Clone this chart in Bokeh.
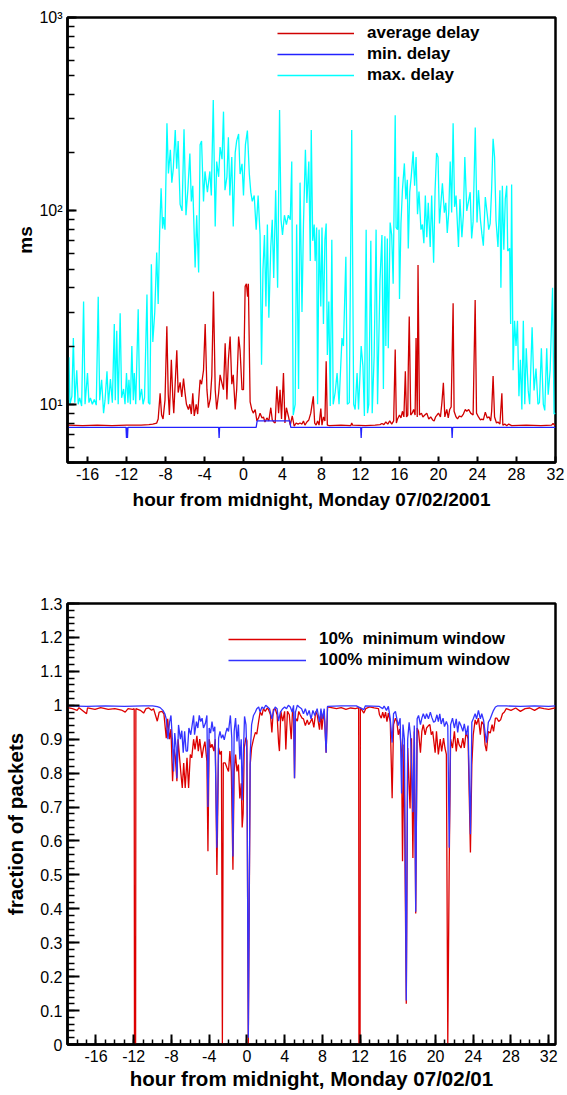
from bokeh.plotting import figure
from bokeh.layouts import column
from bokeh.models import (Range1d, SingleIntervalTicker, LogTicker,
                          CustomJSTickFormatter, Legend, LegendItem)
from bokeh.embed import file_html
from bokeh.resources import INLINE

FONT = "Liberation Sans"

# ---------------- top panel data: (hour, ms) ----------------
max_delay_pts = [
    (-18.0, 10.5), (-17.9, 17.5), (-17.8, 10.0), (-17.6, 11.0), (-17.45, 22.0), (-17.3, 10.2),
    (-17.1, 15.0), (-16.95, 10.0), (-16.8, 10.8), (-16.6, 9.8), (-16.4, 34.0), (-16.25, 10.0),
    (-16.0, 14.5), (-15.85, 10.2), (-15.7, 10.8), (-15.5, 10.0), (-15.3, 10.6), (-15.1, 9.9),
    (-14.9, 36.0), (-14.75, 10.5), (-14.55, 13.4), (-14.35, 9.0), (-14.2, 10.5), (-14.0, 14.8),
    (-13.85, 10.0), (-13.65, 13.5), (-13.45, 10.2), (-13.25, 26.0), (-13.15, 10.5), (-13.0, 24.0),
    (-12.85, 10.0), (-12.65, 29.6), (-12.5, 10.8), (-12.3, 12.0), (-12.15, 10.0), (-12.0, 14.5),
    (-11.85, 10.2), (-11.75, 13.4), (-11.6, 10.0), (-11.45, 20.0), (-11.3, 10.5), (-11.2, 14.5),
    (-11.05, 10.0), (-10.8, 31.0), (-10.65, 10.5), (-10.45, 12.0), (-10.3, 10.0), (-10.15, 10.8),
    (-9.9, 37.0), (-9.75, 10.2), (-9.6, 10.0), (-9.45, 53.0), (-9.3, 21.0), (-9.1, 30.0),
    (-8.9, 61.0), (-8.75, 33.0), (-8.6, 77.0), (-8.45, 131.0), (-8.3, 81.0), (-8.2, 93.0),
    (-8.05, 80.0), (-7.85, 284.0), (-7.7, 156.0), (-7.5, 207.0), (-7.35, 140.0), (-7.2, 165.0),
    (-7.0, 262.0), (-6.85, 165.0), (-6.7, 230.0), (-6.5, 108.0), (-6.3, 100.0), (-6.1, 264.0),
    (-5.9, 95.0), (-5.7, 130.0), (-5.5, 198.0), (-5.35, 112.0), (-5.2, 135.0), (-4.96, 51.0),
    (-4.8, 95.0), (-4.6, 48.0), (-4.45, 220.0), (-4.3, 230.0), (-4.1, 112.0), (-3.95, 160.0),
    (-3.7, 125.0), (-3.45, 160.0), (-3.3, 120.0), (-3.1, 374.0), (-2.9, 83.0), (-2.75, 180.0),
    (-2.55, 150.0), (-2.4, 214.0), (-2.2, 185.0), (-2.05, 326.0), (-1.9, 128.0), (-1.7, 150.0),
    (-1.55, 240.0), (-1.4, 120.0), (-1.2, 190.0), (-1.05, 83.0), (-0.85, 200.0), (-0.7, 230.0),
    (-0.5, 250.0), (-0.35, 155.0), (-0.15, 175.0), (0.0, 120.0), (0.2, 220.0), (0.4, 260.0),
    (0.6, 155.0), (0.75, 125.0), (0.9, 112.0), (1.1, 120.0), (1.3, 80.0), (1.5, 120.0),
    (1.7, 75.0), (1.85, 16.0), (2.0, 50.0), (2.15, 75.0), (2.3, 32.0), (2.45, 85.0),
    (2.6, 28.0), (2.8, 65.0), (2.95, 90.0), (3.1, 45.0), (3.3, 128.0), (3.5, 40.0),
    (3.7, 332.0), (3.85, 90.0), (4.0, 75.0), (4.2, 95.0), (4.4, 85.0), (4.6, 95.0),
    (4.8, 90.0), (4.95, 180.0), (5.1, 8.8), (5.3, 10.0), (5.45, 85.0), (5.65, 12.0),
    (5.8, 140.0), (6.0, 30.0), (6.15, 85.0), (6.35, 207.0), (6.5, 110.0), (6.7, 180.0),
    (6.85, 55.0), (6.95, 262.0), (7.1, 70.0), (7.25, 85.0), (7.35, 55.0), (7.5, 82.0),
    (7.6, 10.0), (7.75, 80.0), (7.93, 32.0), (8.05, 82.0), (8.2, 26.0), (8.35, 71.0),
    (8.48, 86.0), (8.6, 18.0), (8.75, 34.0), (8.9, 9.8), (9.06, 71.0), (9.2, 10.0),
    (9.4, 11.5), (9.6, 14.5), (9.8, 10.0), (10.1, 22.0), (10.25, 20.0), (10.5, 58.0),
    (10.65, 10.0), (10.85, 10.2), (11.1, 262.0), (11.3, 10.0), (11.45, 9.4), (11.65, 14.5),
    (11.8, 9.4), (12.07, 20.0), (12.25, 15.7), (12.4, 8.7), (12.58, 80.0), (12.72, 9.0),
    (12.85, 10.0), (13.06, 70.0), (13.2, 9.0), (13.4, 17.7), (13.6, 80.0), (13.75, 10.0),
    (14.0, 44.0), (14.2, 75.0), (14.35, 12.0), (14.5, 74.0), (14.6, 20.0), (14.75, 72.0),
    (14.85, 19.5), (15.04, 87.0), (15.2, 75.0), (15.35, 42.0), (15.56, 312.0), (15.65, 82.0),
    (15.8, 80.0), (15.9, 150.0), (16.0, 35.0), (16.15, 86.0), (16.3, 128.0), (16.5, 176.0),
    (16.65, 115.0), (16.8, 145.0), (16.9, 64.0), (17.05, 125.0), (17.2, 150.0), (17.4, 203.0),
    (17.55, 135.0), (17.7, 190.0), (17.85, 96.0), (18.0, 126.0), (18.2, 80.0), (18.35, 85.0),
    (18.5, 68.0), (18.65, 120.0), (18.8, 73.0), (18.95, 110.0), (19.15, 65.0), (19.3, 120.0),
    (19.5, 54.0), (19.65, 128.0), (19.8, 199.0), (19.95, 190.0), (20.1, 86.0), (20.25, 110.0),
    (20.4, 139.0), (20.6, 98.0), (20.75, 110.0), (20.9, 77.0), (21.05, 98.0), (21.2, 180.0),
    (21.35, 98.0), (21.5, 284.0), (21.65, 105.0), (21.8, 120.0), (22.05, 65.0), (22.2, 115.0),
    (22.4, 73.0), (22.55, 95.0), (22.7, 190.0), (22.9, 100.0), (23.05, 110.0), (23.25, 125.0),
    (23.4, 72.0), (23.55, 88.0), (23.77, 270.0), (23.95, 87.0), (24.1, 128.0), (24.3, 90.0),
    (24.45, 76.0), (24.6, 66.0), (24.8, 118.0), (25.0, 96.0), (25.15, 80.0), (25.3, 86.0),
    (25.45, 130.0), (25.6, 236.0), (25.75, 190.0), (25.9, 89.0), (26.1, 65.0), (26.3, 128.0),
    (26.4, 40.0), (26.55, 135.0), (26.7, 63.0), (26.85, 115.0), (27.0, 135.0), (27.1, 62.0),
    (27.3, 64.0), (27.4, 26.0), (27.5, 137.0), (27.65, 15.0), (27.8, 27.0), (27.95, 20.0),
    (28.1, 27.0), (28.25, 11.0), (28.4, 17.0), (28.55, 9.4), (28.7, 27.0), (28.85, 10.0),
    (29.0, 19.5), (29.2, 11.8), (29.35, 10.0), (29.6, 25.0), (29.8, 11.8), (30.0, 15.3),
    (30.2, 10.0), (30.35, 10.2), (30.55, 19.5), (30.75, 10.0), (30.9, 9.3), (31.1, 19.5),
    (31.25, 11.2), (31.45, 15.0), (31.7, 40.0), (31.85, 8.9), (32.0, 9.0),
]

avg_delay_pts = [
    (-18.0, 7.8), (-16.5, 7.75), (-15.0, 7.8), (-13.5, 7.75), (-12.0, 7.8), (-10.5, 7.8),
    (-9.7, 7.85), (-9.3, 7.9), (-8.9, 8.0), (-8.75, 8.4), (-8.55, 11.4), (-8.4, 8.8),
    (-8.25, 8.4), (-8.05, 10.5), (-7.86, 25.3), (-7.72, 11.3), (-7.6, 8.8), (-7.4, 17.0),
    (-7.25, 10.8), (-7.15, 9.0), (-7.0, 13.0), (-6.84, 19.0), (-6.7, 11.5), (-6.5, 13.0),
    (-6.33, 10.9), (-6.15, 13.6), (-6.0, 11.5), (-5.85, 10.0), (-5.65, 9.4), (-5.5, 10.0),
    (-5.35, 8.9), (-5.2, 11.4), (-5.05, 8.7), (-4.85, 10.0), (-4.7, 8.9), (-4.45, 13.4),
    (-4.3, 12.7), (-4.1, 15.0), (-3.93, 26.0), (-3.75, 11.9), (-3.6, 9.6), (-3.4, 10.7),
    (-3.25, 14.0), (-3.08, 38.3), (-2.9, 11.9), (-2.75, 9.4), (-2.55, 11.4), (-2.4, 14.2),
    (-2.2, 12.8), (-2.05, 11.9), (-1.88, 20.7), (-1.7, 10.6), (-1.55, 17.0), (-1.37, 22.4),
    (-1.2, 12.7), (-1.05, 14.2), (-0.85, 9.4), (-0.7, 11.9), (-0.5, 22.4), (-0.35, 19.0),
    (-0.15, 11.9), (0.0, 11.9), (0.17, 40.7), (0.3, 42.0), (0.42, 36.0), (0.5, 42.0),
    (0.68, 10.3), (0.85, 9.4), (1.0, 9.0), (1.2, 9.4), (1.37, 8.2), (1.55, 8.5),
    (1.7, 9.0), (1.9, 8.5), (2.05, 8.6), (2.2, 8.1), (2.4, 8.5), (2.6, 8.2),
    (2.8, 9.6), (2.95, 8.3), (3.1, 8.1), (3.25, 8.0), (3.42, 12.4), (3.6, 9.0),
    (3.75, 11.9), (3.9, 8.4), (4.1, 14.5), (4.25, 8.0), (4.4, 9.6), (4.6, 8.7),
    (4.8, 7.8), (5.0, 8.7), (5.2, 7.7), (5.4, 8.0), (5.6, 7.9), (5.8, 8.0),
    (6.0, 7.9), (6.15, 8.2), (6.3, 7.8), (6.5, 8.1), (6.7, 8.3), (6.9, 9.0),
    (7.16, 11.0), (7.3, 8.0), (7.45, 7.8), (7.6, 8.2), (7.75, 7.8), (7.93, 9.5),
    (8.05, 7.8), (8.2, 8.6), (8.35, 8.2), (8.48, 16.7), (8.6, 7.8), (8.8, 7.75),
    (10.0, 7.8), (11.0, 7.75), (11.1, 8.0), (11.2, 7.8), (12.5, 7.75), (13.5, 7.8),
    (14.0, 7.85), (14.2, 7.95), (14.4, 7.85), (14.6, 8.1), (14.8, 7.9), (15.0, 8.2),
    (15.2, 7.9), (15.4, 8.2), (15.56, 19.2), (15.68, 8.0), (15.8, 8.4), (15.9, 8.6),
    (16.0, 8.8), (16.15, 8.5), (16.3, 9.2), (16.45, 8.6), (16.6, 14.8), (16.72, 8.6),
    (16.85, 8.8), (16.9, 15.3), (17.0, 28.4), (17.15, 8.8), (17.3, 9.0), (17.45, 9.4),
    (17.6, 8.8), (17.7, 22.0), (17.82, 8.6), (17.9, 52.5), (18.05, 8.8), (18.25, 9.0),
    (18.4, 8.6), (18.6, 8.8), (18.8, 9.0), (19.0, 8.4), (19.2, 8.6), (19.4, 8.3),
    (19.55, 8.2), (19.7, 8.6), (19.85, 8.8), (20.0, 9.0), (20.2, 8.6), (20.35, 10.2),
    (20.5, 12.9), (20.65, 8.6), (20.85, 9.4), (21.0, 8.5), (21.15, 9.4), (21.3, 9.7),
    (21.5, 33.3), (21.6, 9.2), (21.8, 8.6), (21.95, 8.4), (22.15, 8.7), (22.35, 8.6),
    (22.55, 8.9), (22.75, 9.4), (22.9, 9.2), (23.1, 9.4), (23.3, 9.0), (23.55, 8.8),
    (23.76, 34.6), (23.9, 9.0), (24.1, 8.6), (24.3, 8.3), (24.45, 8.4), (24.6, 8.3),
    (24.8, 9.1), (25.0, 8.5), (25.2, 8.6), (25.35, 8.2), (25.45, 9.2), (25.6, 14.0),
    (25.75, 8.6), (25.95, 8.0), (26.1, 8.1), (26.3, 7.9), (26.5, 11.4), (26.6, 7.8),
    (26.8, 7.9), (27.0, 7.75), (27.2, 7.9), (27.5, 7.75), (29.0, 7.8), (30.5, 7.75),
    (31.6, 7.8), (31.75, 7.95), (31.9, 7.8), (32.0, 7.8),
]

min_delay_pts = [
    (-18.0, 7.6), (-12.05, 7.6), (-12.0, 6.7), (-11.95, 7.6), (-11.9, 6.7), (-11.85, 7.6),
    (-2.55, 7.6), (-2.5, 6.7), (-2.45, 7.6), (1.3, 7.6), (1.4, 8.2), (4.75, 8.2),
    (4.85, 7.6), (12.02, 7.6), (12.07, 6.7), (12.12, 7.6), (21.35, 7.6), (21.4, 6.7),
    (21.45, 7.6), (32.0, 7.6),
]

# ---------------- bottom panel data: (hour, fraction) ----------------
frac10_pts = [
    (-19.0, 0.993), (-18.5, 0.99), (-18.0, 0.985), (-17.8, 0.993), (-17.0, 0.975), (-16.9, 0.992),
    (-16.1, 0.988), (-15.5, 0.993), (-14.7, 0.988), (-14.0, 0.99), (-13.3, 0.986), (-12.9, 0.98),
    (-12.6, 0.99), (-12.1, 0.988), (-11.95, 0.99), (-11.92, 0.0), (-11.8, 0.0), (-11.77, 0.99),
    (-11.3, 0.985), (-10.95, 0.977), (-10.7, 0.99), (-10.4, 0.992), (-10.1, 0.985), (-9.9, 0.99),
    (-9.5, 0.953), (-9.3, 0.98), (-9.0, 0.982), (-8.8, 0.975), (-8.55, 0.903), (-8.4, 0.96),
    (-8.2, 0.90), (-8.05, 0.93), (-7.88, 0.776), (-7.72, 0.87), (-7.6, 0.85), (-7.42, 0.776),
    (-7.3, 0.90), (-7.15, 0.85), (-7.0, 0.80), (-6.85, 0.756), (-6.7, 0.83), (-6.54, 0.756),
    (-6.35, 0.845), (-6.18, 0.756), (-6.0, 0.855), (-5.85, 0.845), (-5.65, 0.90), (-5.5, 0.87),
    (-5.3, 0.91), (-5.15, 0.865), (-5.0, 0.90), (-4.77, 0.845), (-4.6, 0.875), (-4.45, 0.893),
    (-4.24, 0.835), (-4.13, 0.57), (-4.0, 0.90), (-3.85, 0.875), (-3.7, 0.885), (-3.5, 0.865),
    (-3.35, 0.90), (-3.18, 0.50), (-3.0, 0.875), (-2.85, 0.855), (-2.7, 0.865), (-2.6, 0.0),
    (-2.5, 0.83), (-2.3, 0.83), (-2.1, 0.815), (-1.95, 0.805), (-1.8, 0.865), (-1.65, 0.805),
    (-1.48, 0.515), (-1.35, 0.805), (-1.2, 0.855), (-1.05, 0.805), (-0.9, 0.825), (-0.75, 0.725),
    (-0.6, 0.77), (-0.5, 0.64), (-0.4, 0.68), (-0.28, 0.875), (-0.1, 0.905), (0.0, 0.895),
    (0.15, 0.0), (0.35, 0.825), (0.5, 0.875), (0.7, 0.90), (0.9, 0.92), (1.05, 0.915),
    (1.25, 0.953), (1.4, 0.98), (1.6, 0.97), (1.75, 0.99), (1.95, 0.982), (2.15, 0.992),
    (2.3, 0.987), (2.5, 0.972), (2.65, 0.92), (2.8, 0.987), (3.0, 0.99), (3.2, 0.972),
    (3.36, 0.89), (3.45, 0.865), (3.6, 0.982), (3.8, 0.953), (4.0, 0.982), (4.13, 0.87),
    (4.3, 0.982), (4.5, 0.972), (4.7, 0.90), (4.85, 0.99), (4.95, 0.982), (5.05, 0.785),
    (5.15, 0.962), (5.35, 0.953), (5.5, 0.982), (5.65, 0.972), (5.85, 0.962), (6.0, 0.96),
    (6.2, 0.94), (6.4, 0.957), (6.55, 0.943), (6.75, 0.952), (6.9, 0.962), (7.1, 0.935),
    (7.3, 0.982), (7.45, 0.972), (7.7, 0.928), (7.85, 0.982), (7.95, 0.928), (8.15, 0.982),
    (8.25, 0.952), (8.4, 0.86), (8.55, 0.995), (9.5, 0.99), (10.0, 0.993), (10.5, 0.988),
    (11.0, 0.992), (11.5, 0.99), (11.85, 0.993), (11.88, 0.0), (12.0, 0.0), (12.03, 0.993),
    (12.4, 0.977), (12.6, 0.99), (13.0, 0.995), (13.5, 0.992), (13.95, 0.99), (14.06, 0.972),
    (14.25, 0.962), (14.4, 0.98), (14.55, 0.962), (14.7, 0.98), (14.85, 0.952), (15.0, 0.977),
    (15.2, 0.952), (15.4, 0.726), (15.55, 0.943), (15.75, 0.962), (15.9, 0.952), (16.05, 0.913),
    (16.2, 0.93), (16.4, 0.86), (16.5, 0.54), (16.65, 0.884), (16.9, 0.12), (17.05, 0.874),
    (17.3, 0.696), (17.45, 0.903), (17.6, 0.55), (17.75, 0.923), (17.9, 0.386), (18.05, 0.933),
    (18.2, 0.923), (18.4, 0.86), (18.55, 0.923), (18.7, 0.943), (18.9, 0.913), (19.05, 0.933),
    (19.25, 0.94), (19.4, 0.943), (19.55, 0.913), (19.7, 0.923), (19.96, 0.86), (20.1, 0.923),
    (20.3, 0.855), (20.5, 0.90), (20.65, 0.864), (20.85, 0.903), (21.0, 0.874), (21.15, 0.855),
    (21.3, 0.0), (21.45, 0.53), (21.6, 0.90), (21.8, 0.874), (22.0, 0.923), (22.2, 0.864),
    (22.35, 0.903), (22.5, 0.884), (22.7, 0.874), (22.9, 0.903), (23.05, 0.874), (23.25, 0.923),
    (23.45, 0.90), (23.7, 0.566), (23.85, 0.825), (24.0, 0.913), (24.2, 0.957), (24.35, 0.943),
    (24.55, 0.962), (24.75, 0.913), (24.9, 0.952), (25.1, 0.943), (25.25, 0.884), (25.4, 0.865),
    (25.6, 0.923), (25.8, 0.918), (26.0, 0.943), (26.15, 0.923), (26.35, 0.962), (26.5, 0.962),
    (26.7, 0.952), (26.9, 0.957), (27.1, 0.975), (27.3, 0.98), (27.5, 0.99), (28.0, 0.985),
    (28.5, 0.992), (29.0, 0.982), (29.5, 0.99), (30.0, 0.992), (30.5, 0.985), (31.0, 0.993),
    (31.5, 0.99), (32.0, 0.988), (32.7, 0.992),
]

frac100_pts = [
    (-19.0, 0.998), (-17.0, 0.997), (-15.0, 0.998), (-13.0, 0.997), (-11.0, 0.998), (-10.0, 0.998),
    (-9.5, 0.996), (-9.2, 0.993), (-8.9, 0.985), (-8.7, 0.975), (-8.55, 0.96), (-8.37, 0.90),
    (-8.2, 0.95), (-8.05, 0.97), (-7.9, 0.90), (-7.77, 0.805), (-7.65, 0.918), (-7.5, 0.875),
    (-7.42, 0.785), (-7.25, 0.942), (-7.05, 0.90), (-6.9, 0.925), (-6.75, 0.86), (-6.6, 0.923),
    (-6.45, 0.865), (-6.3, 0.865), (-6.15, 0.933), (-5.95, 0.913), (-5.8, 0.942), (-5.65, 0.97),
    (-5.55, 0.913), (-5.35, 0.952), (-5.2, 0.933), (-5.05, 0.97), (-4.9, 0.952), (-4.75, 0.962),
    (-4.6, 0.933), (-4.4, 0.947), (-4.24, 0.97), (-4.13, 0.70), (-4.0, 0.933), (-3.85, 0.918),
    (-3.7, 0.952), (-3.55, 0.923), (-3.4, 0.937), (-3.18, 0.58), (-3.0, 0.903), (-2.85, 0.923),
    (-2.7, 0.903), (-2.55, 0.913), (-2.4, 0.898), (-2.25, 0.918), (-2.1, 0.933), (-1.95, 0.923),
    (-1.75, 0.97), (-1.6, 0.903), (-1.48, 0.554), (-1.35, 0.923), (-1.2, 0.962), (-1.05, 0.893),
    (-0.9, 0.943), (-0.75, 0.84), (-0.6, 0.90), (-0.5, 0.72), (-0.4, 0.83), (-0.25, 0.967),
    (-0.1, 0.943), (0.0, 0.855), (0.15, 0.02), (0.35, 0.855), (0.5, 0.943), (0.7, 0.97),
    (0.9, 0.98), (1.05, 0.99), (1.25, 0.995), (1.4, 0.98), (1.6, 0.995), (1.8, 0.99),
    (2.0, 1.0), (2.2, 0.995), (2.4, 0.99), (2.65, 0.96), (2.8, 0.98), (3.0, 0.995),
    (3.2, 0.99), (3.36, 0.953), (3.55, 0.98), (3.8, 0.99), (4.0, 0.995), (4.2, 0.99),
    (4.4, 1.0), (4.6, 0.995), (4.8, 0.98), (4.95, 1.0), (5.05, 0.785), (5.15, 0.98),
    (5.35, 1.0), (5.55, 0.995), (5.8, 0.99), (6.0, 0.975), (6.2, 0.99), (6.4, 0.97),
    (6.6, 0.985), (6.8, 0.96), (7.0, 0.985), (7.2, 0.97), (7.45, 0.99), (7.7, 0.95),
    (7.85, 0.99), (8.0, 0.96), (8.2, 0.99), (8.4, 0.86), (8.55, 0.997), (10.0, 0.998),
    (11.6, 0.998), (12.4, 0.987), (12.55, 0.998), (14.0, 0.997), (14.4, 0.99), (14.55, 0.998),
    (14.8, 0.985), (15.0, 0.997), (15.2, 0.96), (15.4, 0.89), (15.55, 0.975), (15.75, 0.982),
    (15.9, 0.96), (16.05, 0.94), (16.25, 0.962), (16.4, 0.74), (16.55, 0.943), (16.7, 0.90),
    (16.9, 0.13), (17.05, 0.90), (17.2, 0.95), (17.35, 0.91), (17.6, 0.685), (17.75, 0.94),
    (17.9, 0.391), (18.05, 0.96), (18.2, 0.97), (18.4, 0.943), (18.55, 0.962), (18.7, 0.975),
    (18.9, 0.96), (19.05, 0.975), (19.25, 0.96), (19.45, 0.98), (19.6, 0.965), (19.8, 0.95),
    (19.96, 0.953), (20.15, 0.972), (20.3, 0.952), (20.45, 0.975), (20.6, 0.945), (20.8, 0.962),
    (20.95, 0.937), (21.15, 0.952), (21.3, 0.94), (21.45, 0.58), (21.6, 0.943), (21.8, 0.962),
    (22.0, 0.933), (22.2, 0.96), (22.35, 0.92), (22.5, 0.952), (22.7, 0.94), (22.9, 0.923),
    (23.05, 0.945), (23.25, 0.913), (23.45, 0.94), (23.7, 0.62), (23.85, 0.95), (24.0, 0.96),
    (24.2, 0.975), (24.35, 0.96), (24.55, 0.985), (24.75, 0.96), (24.9, 0.975), (25.1, 0.955),
    (25.25, 0.92), (25.4, 0.89), (25.6, 0.95), (25.8, 0.96), (26.0, 0.975), (26.15, 0.985),
    (26.35, 0.995), (26.55, 0.998), (27.5, 0.998), (29.0, 0.997), (30.5, 0.998), (32.0, 0.997),
    (32.7, 0.998),
]

top_x_label = "hour from midnight, Monday 07/02/2001"
bot_x_label = "hour from midnight, Monday 07/02/01"
top_y_label = "ms"
bot_y_label = "fraction of packets"
top_legend = ["average delay", "min. delay", "max. delay"]
bot_legend = ["10%  minimum window", "100% minimum window"]


def split(pts):
    return [p[0] for p in pts], [p[1] for p in pts]


def style_axes(p, title_size):
    p.grid.visible = False
    p.outline_line_color = "black"
    p.outline_line_width = 2.5
    p.background_fill_color = "white"
    p.border_fill_color = "white"
    for ax in (p.xaxis[0], p.yaxis[0]):
        ax.axis_line_color = "black"
        ax.axis_line_width = 2.5
        ax.major_tick_out = 0
        ax.minor_tick_out = 0
        ax.major_tick_line_color = "black"
        ax.minor_tick_line_color = "black"
        ax.major_tick_line_width = 2
        ax.minor_tick_line_width = 1.5
        ax.major_label_text_font = FONT
        ax.major_label_text_font_size = "16px"
        ax.major_label_text_color = "black"
        ax.axis_label_text_font = FONT
        ax.axis_label_text_font_style = "bold"
        ax.axis_label_text_color = "black"
        ax.axis_label_text_font_size = title_size


# ---------------- top figure ----------------
p1 = figure(width=567, height=545, y_axis_type="log",
            x_range=Range1d(-18.05, 32.0), y_range=Range1d(5, 1000),
            output_backend="svg", toolbar_location=None,
            min_border_left=67, min_border_right=12, min_border_top=17, min_border_bottom=83)
style_axes(p1, "19px")

hx, vx = split(max_delay_pts)
ha, va = split(avg_delay_pts)
hn, vn = split(min_delay_pts)
r_max = p1.line(hx, vx, line_color="#00ffff", line_width=1.3)
r_avg = p1.line(ha, va, line_color="#d00000", line_width=1.3)
r_min = p1.line(hn, vn, line_color="#2222ff", line_width=1.3)

p1.xaxis.ticker = SingleIntervalTicker(interval=4, num_minor_ticks=0)
p1.xaxis.formatter = CustomJSTickFormatter(code="return String(Math.round(tick));")
p1.xaxis.major_tick_in = 6
p1.xaxis.minor_tick_line_color = None
p1.xaxis.axis_label = top_x_label
p1.xaxis.axis_label_standoff = 6

p1.yaxis.ticker = LogTicker(num_minor_ticks=10)
p1.yaxis.formatter = CustomJSTickFormatter(code="""
const e = Math.round(Math.log10(tick));
const sup = {"0": "\u2070", "1": "\u00b9", "2": "\u00b2", "3": "\u00b3"};
return "10" + String(e).split("").map(c => sup[c] || c).join("");
""")
p1.yaxis.major_tick_in = 9
p1.yaxis.minor_tick_in = 7
p1.yaxis.axis_label = top_y_label
p1.yaxis.axis_label_standoff = 0

leg1 = Legend(items=[LegendItem(label=top_legend[0], renderers=[r_avg]),
                     LegendItem(label=top_legend[1], renderers=[r_min]),
                     LegendItem(label=top_legend[2], renderers=[r_max])],
              location=(210, 377), orientation="vertical",
              glyph_width=77, glyph_height=20, label_height=20, label_standoff=13,
              spacing=1, padding=0, margin=0,
              border_line_alpha=0, background_fill_alpha=0,
              label_text_font=FONT, label_text_font_style="bold",
              label_text_font_size="17px", label_text_color="black")
p1.add_layout(leg1)

# ---------------- bottom figure ----------------
p2 = figure(width=567, height=550,
            x_range=Range1d(-19.02, 32.72), y_range=Range1d(0, 1.3),
            output_backend="svg", toolbar_location=None,
            min_border_left=67, min_border_right=12, min_border_top=58, min_border_bottom=51)
style_axes(p2, "20.5px")

h10, v10 = split(frac10_pts)
h100, v100 = split(frac100_pts)
r10 = p2.line(h10, v10, line_color="#dd0000", line_width=1.3)
r100 = p2.line(h100, v100, line_color="#3333ff", line_width=1.3)

p2.xaxis.ticker = SingleIntervalTicker(interval=4, num_minor_ticks=4)
p2.xaxis.formatter = CustomJSTickFormatter(code="return String(Math.round(tick));")
p2.xaxis.major_tick_in = 10
p2.xaxis.minor_tick_in = 5
p2.xaxis.axis_label = bot_x_label
p2.xaxis.axis_label_standoff = 2

p2.yaxis.ticker = SingleIntervalTicker(interval=0.1, num_minor_ticks=5)
p2.yaxis.formatter = CustomJSTickFormatter(code="return String(Math.round(tick * 10) / 10);")
p2.yaxis.major_tick_in = 12
p2.yaxis.minor_tick_in = 7
p2.yaxis.axis_label = bot_y_label
p2.yaxis.axis_label_standoff = 10

leg2 = Legend(items=[LegendItem(label=bot_legend[0], renderers=[r10]),
                     LegendItem(label=bot_legend[1], renderers=[r100])],
              location=(161, 374), orientation="vertical",
              glyph_width=78, glyph_height=20, label_height=20, label_standoff=13,
              spacing=1, padding=0, margin=0,
              border_line_alpha=0, background_fill_alpha=0,
              label_text_font=FONT, label_text_font_style="bold",
              label_text_font_size="17px", label_text_color="black")
p2.add_layout(leg2)

layout = column(p1, p2, spacing=0)
open("out.html", "w").write(file_html(layout, INLINE, title="delay"))
